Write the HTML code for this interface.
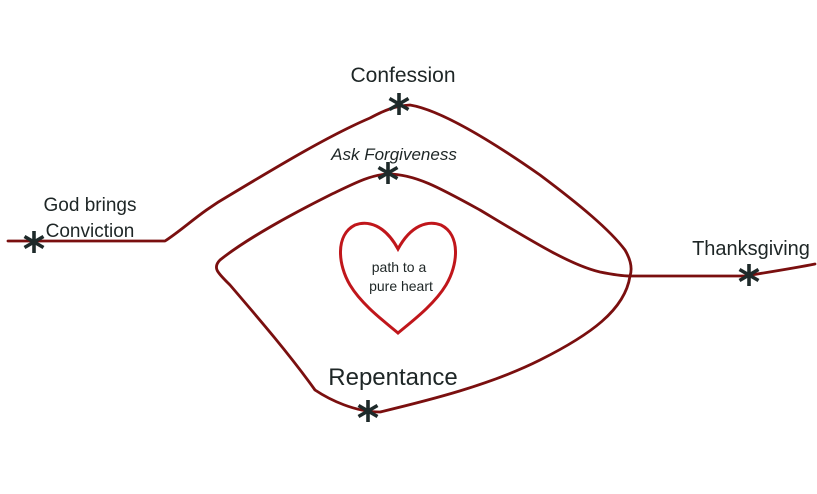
<!DOCTYPE html>
<html><head><meta charset="utf-8"><style>
html,body{margin:0;padding:0;background:#fff;}
svg{display:block;}
text{font-family:"Liberation Sans",sans-serif;fill:#1e2626;}
</style></head><body>
<svg width="817" height="494" viewBox="0 0 817 494" xmlns="http://www.w3.org/2000/svg">
<defs>
<g id="ast" stroke="#1e2a2a" stroke-width="3.6" stroke-linecap="butt">
<line x1="0" y1="-11" x2="0" y2="11"/>
<line x1="-9.5" y1="-5.5" x2="9.5" y2="5.5"/>
<line x1="-9.5" y1="5.5" x2="9.5" y2="-5.5"/>
</g>
</defs>
<g fill="none" stroke="#7a0f0f" stroke-width="2.8" stroke-linejoin="round" stroke-linecap="round">
<path d="M8,241 L165,241 C185,228 200,212 230,195 C280,165 330,135 370,118 C385,110 395,106 410,105 C440,110 490,140 540,175 C580,205 610,230 625,250 C632,262 632,270 630,276 L745,276 C770,272 795,268 815,264"/>
<path d="M630,276 C625,310 590,335 540,360 C490,385 430,400 380,412 C355,412 330,400 315,390 C290,355 260,320 230,285 C218,273 212,268 220,260 C245,240 290,215 330,195 C355,183 370,175 388,174 C415,174 440,188 480,210 C530,240 570,265 600,272 C615,275 625,276 630,276"/>
</g>
<path d="M398,249 C385,225 368,220 355,225 C335,235 338,265 350,285 C362,305 385,322 398,333 C411,322 434,305 446,285 C458,265 461,235 441,225 C428,220 411,225 398,249 Z" fill="none" stroke="#c0161b" stroke-width="3"/>
<use href="#ast" x="34" y="242"/>
<use href="#ast" x="399" y="104"/>
<use href="#ast" x="388" y="173"/>
<use href="#ast" x="749" y="275"/>
<use href="#ast" x="368" y="411"/>
<text x="90" y="211" font-size="19" text-anchor="middle">God brings</text>
<text x="90" y="237" font-size="19" text-anchor="middle">Conviction</text>
<text x="403" y="82" font-size="21" text-anchor="middle">Confession</text>
<text x="394" y="160" font-size="17" font-style="italic" text-anchor="middle">Ask Forgiveness</text>
<text x="751" y="255" font-size="20" text-anchor="middle">Thanksgiving</text>
<text x="393" y="385" font-size="24" text-anchor="middle">Repentance</text>
<text x="399" y="272" font-size="14" text-anchor="middle">path to a</text>
<text x="401" y="291" font-size="14" text-anchor="middle">pure heart</text>
</svg>
</body></html>
